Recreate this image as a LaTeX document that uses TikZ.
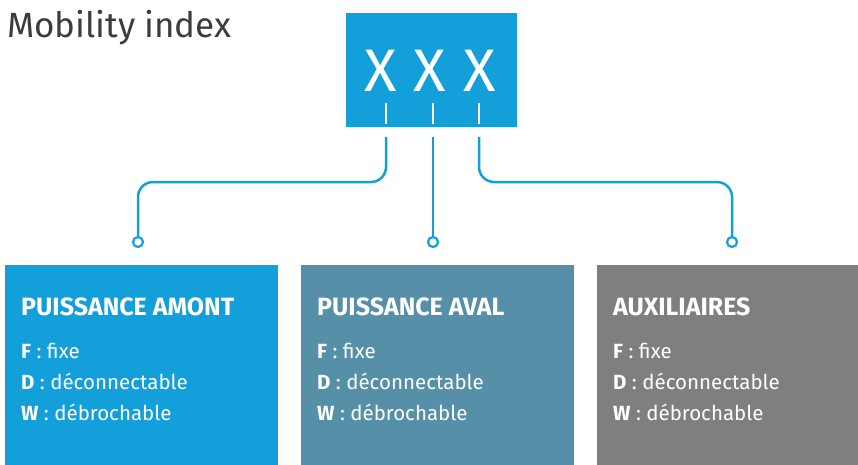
\documentclass[tikz,border=0pt]{standalone}
\usepackage{fontspec}
\setmainfont{Fira Sans}
\definecolor{cblue}{HTML}{139FDA}
\definecolor{cteal}{HTML}{568FA8}
\definecolor{cgray}{HTML}{7F7F7F}
\definecolor{ctitle}{HTML}{3C3C3C}
\tikzset{
  panel/.style={fill=#1, draw=none, anchor=north west, minimum width=273pt, minimum height=200pt, inner sep=0pt},
  head/.style={anchor=base west, inner sep=0pt, text=white, font=\fontsize{25}{28}\selectfont\bfseries},
  item/.style={anchor=base west, inner sep=0pt, text=white, font=\fontsize{20.5}{23}\selectfont},
  conn/.style={draw=cblue, line width=2.5pt, rounded corners=15pt},
  dot/.style={circle, draw=cblue, line width=2.2pt, fill=white, minimum size=10pt, inner sep=0pt},
  tick/.style={draw=white, line width=1.5pt},
  xl/.style={anchor=base, inner sep=0pt, text=white, font=\fontsize{60}{62}\selectfont},
}
\begin{document}
\begin{tikzpicture}[x=1pt,y=-1pt]
\useasboundingbox (0,0) rectangle (858,465);
\node[anchor=base west, inner sep=0pt, text=ctitle, font=\fontsize{35}{38}\selectfont] (title) at (7,38) {Mobility index};
% index box
\node[fill=cblue, anchor=north west, minimum width=171pt, minimum height=114pt, inner sep=0pt] (box) at (346,13) {};
\node[xl] (x1) at (381,92) {X};
\node[xl] (x2) at (430,92) {X};
\node[xl] (x3) at (480,92) {X};
\draw[tick] (386,103) -- (386,124);
\draw[tick] (433,103) -- (433,124);
\draw[tick] (479,103) -- (479,124);
\coordinate (s1) at (386,137);
\coordinate (s2) at (433,137);
\coordinate (s3) at (479,137);
% dots
\node[dot] (c1) at (138,242) {};
\node[dot] (c2) at (433,242) {};
\node[dot] (c3) at (732,242) {};
\draw[conn] (s1) -- (386,182) -- (138,182) -- (c1.north);
\draw[conn] (s2) -- (c2.north);
\draw[conn] (s3) -- (479,182) -- (732,182) -- (c3.north);
% panels
\node[panel=cblue] (p1) at (5,265) {};
\node[panel=cteal] (p2) at (301,265) {};
\node[panel=cgray, minimum width=261pt] (p3) at (597,265) {};
\foreach \n/\x/\t in {1/21/PUISSANCE AMONT, 2/317/PUISSANCE AVAL, 3/613/AUXILIAIRES}{
  \node[head] (h\n) at (\x,315) {\t};
  \node[item] (f\n) at (\x,358) {\textbf{F} : fixe};
  \node[item] (d\n) at (\x,389) {\textbf{D} : déconnectable};
  \node[item] (w\n) at (\x,420) {\textbf{W} : débrochable};
}
\end{tikzpicture}
\end{document}
